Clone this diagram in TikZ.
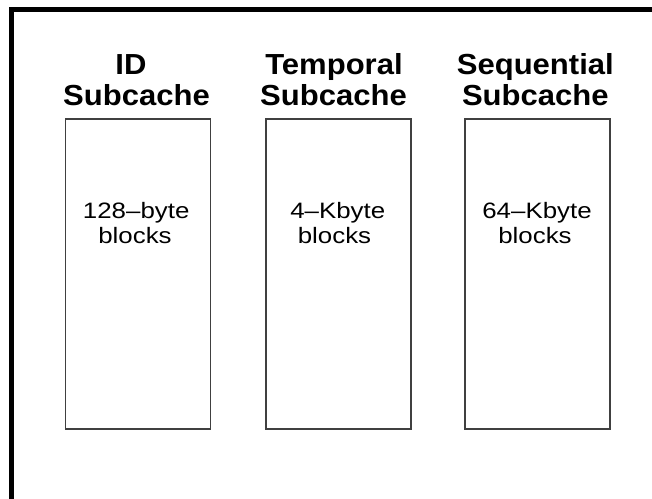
\documentclass[tikz,border=0pt]{standalone}
\usepackage{fontspec}
\newfontfamily\headfont[FakeStretch=1.07]{Liberation Sans}
\newfontfamily\bodyfont[FakeStretch=1.16]{Liberation Sans}
\begin{document}
\begin{tikzpicture}[x=1pt,y=-1pt,
  cachebox/.style={draw=black!75,line width=1.3pt,minimum width=145pt,minimum height=310pt,inner sep=0pt},
  head/.style={anchor=base,inner sep=0pt,font=\headfont\bfseries\fontsize{29}{31}\selectfont},
  body/.style={anchor=base,inner sep=0pt,font=\bodyfont\fontsize{22.3}{25}\selectfont},
  frame/.style={line width=4.5pt}]
\useasboundingbox (0,0) rectangle (652,498);
% frame (left and top edges)
\coordinate (fbl) at (11.7,500);
\coordinate (ftl) at (11.7,9.5);
\coordinate (ftr) at (654,9.5);
\draw[frame] (fbl) -- (ftl) -- (ftr);
% boxes
\node[cachebox] (b1) at (138.2,274) {};
\node[cachebox] (b2) at (338.5,274) {};
\node[cachebox] (b3) at (537.5,274) {};
% headings
\node[head] (h1a) at (131,74.5) {ID};
\node[head] (h1b) at (136.5,105.5) {Subcache};
\node[head] (h2a) at (334,74) {Temporal};
\node[head] (h2b) at (333.5,105.5) {Subcache};
\node[head] (h3a) at (535.3,74.3) {Sequential};
\node[head] (h3b) at (535.3,105.5) {Subcache};
% contents
\node[body] (t1a) at (136.2,218.3) {128–byte};
\node[body] (t1b) at (135,243.3) {blocks};
\node[body] (t2a) at (337.8,218.3) {4–Kbyte};
\node[body] (t2b) at (334.5,243.3) {blocks};
\node[body] (t3a) at (537,218.3) {64–Kbyte};
\node[body] (t3b) at (535,243.3) {blocks};
\end{tikzpicture}
\end{document}
